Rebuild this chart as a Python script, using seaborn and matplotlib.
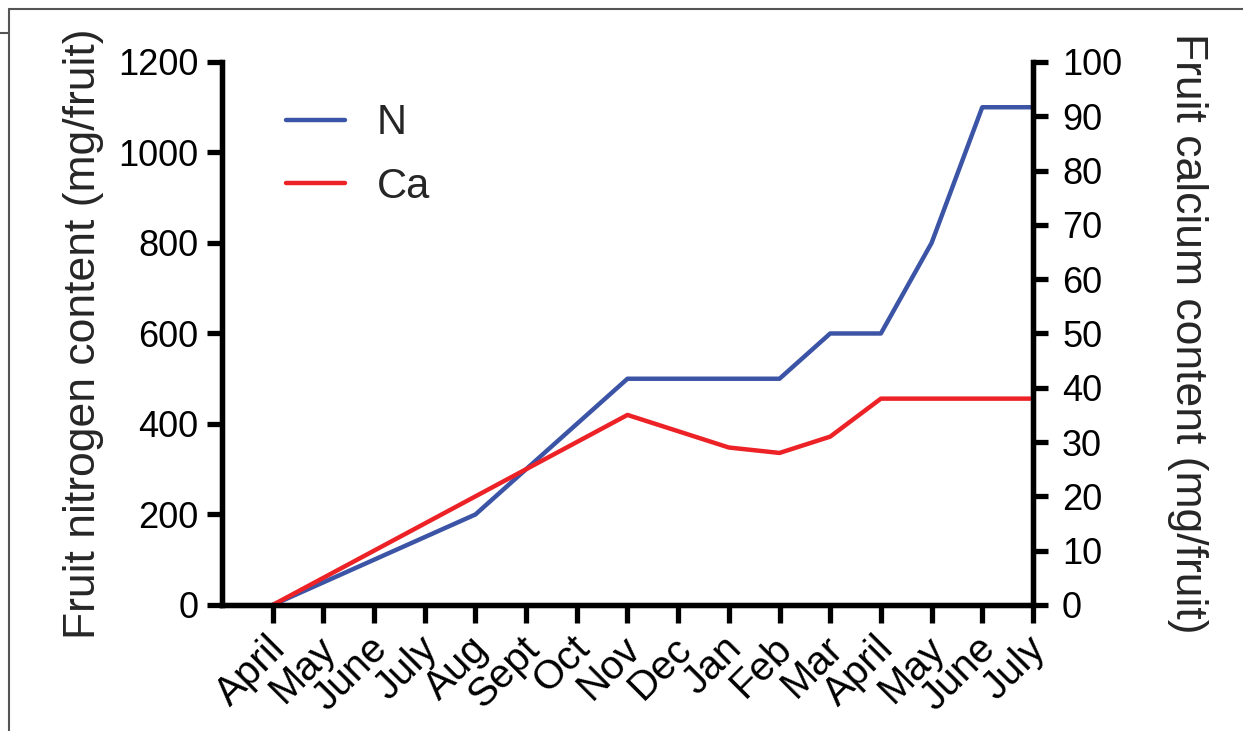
import matplotlib.pyplot as plt
import seaborn as sns
import pandas as pd
from matplotlib.lines import Line2D
from matplotlib.transforms import ScaledTranslation

months = ["April", "May", "June", "July", "Aug", "Sept", "Oct", "Nov",
          "Dec", "Jan", "Feb", "Mar", "April", "May", "June", "July"]
nitrogen = [0, 50, 100, 150, 200, 300, 400, 500, 500, 500, 500, 600, 600, 800, 1100, 1100]
calcium = [0, 5, 10, 15, 20, 25, 30, 35, 32, 29, 28, 31, 38, 38, 38, 38]

blue = "#3b54a5"
red = "#ec2227"

df = pd.DataFrame({"idx": range(len(months)), "N": nitrogen, "Ca": calcium})

sns.set_style("ticks")
plt.rcParams["font.family"] = ["Liberation Sans", "DejaVu Sans"]

fig = plt.figure(figsize=(12.43, 7.31), dpi=100)
ax = fig.add_axes([0.1786, 0.1724, 0.6524, 0.7428])
ax2 = ax.twinx()

sns.lineplot(data=df, x="idx", y="N", ax=ax, color=blue, linewidth=3.2)
sns.lineplot(data=df, x="idx", y="Ca", ax=ax2, color=red, linewidth=3.2)

ax.set_xlim(-1, 15)
ax.set_ylim(0, 1200)
ax2.set_ylim(0, 100)
ax.set_yticks(range(0, 1201, 200))
ax2.set_yticks(range(0, 101, 10))
ax.set_xticks(df["idx"])
ax.set_xticklabels(months, rotation=45, ha="right", va="center", rotation_mode="anchor")

for a in (ax, ax2):
    a.set_xlabel("")
    for s in a.spines.values():
        s.set_linewidth(3.8)
        s.set_color("black")
    a.spines["top"].set_visible(False)
    a.tick_params(width=3.8, length=11, labelsize=26, colors="black")

ax.tick_params(axis="x", labelsize=29, length=13, pad=14)
ax.tick_params(axis="y", pad=6)
ax2.tick_params(axis="y", pad=10)

# nudge month labels a little to the right, as in the original
shift = ScaledTranslation(7 / 100, 0, fig.dpi_scale_trans)
for lab in ax.get_xticklabels():
    lab.set_transform(lab.get_transform() + shift)

ax.set_ylabel("Fruit nitrogen content (mg/fruit)", fontsize=32, labelpad=10)
ax2.set_ylabel("Fruit calcium content (mg/fruit)", fontsize=32, rotation=270, labelpad=62)

handles = [Line2D([], [], color=blue, linewidth=3.2), Line2D([], [], color=red, linewidth=3.2)]
ax.legend(handles, ["N", "Ca"], loc="upper left", bbox_to_anchor=(0.033, 0.993),
          frameon=False, fontsize=30, handlelength=1.4, handletextpad=0.77, labelspacing=0.56)

# page frame lines around the figure
fig.add_artist(Line2D([0.0075, 0.0075], [0, 0.988], color="#555555", linewidth=1.5))
fig.add_artist(Line2D([0.0075, 1], [0.988, 0.988], color="#555555", linewidth=1.5))
fig.add_artist(Line2D([0, 0.0075], [0.955, 0.955], color="#555555", linewidth=1.5))

fig.savefig("out.png", dpi=100)
